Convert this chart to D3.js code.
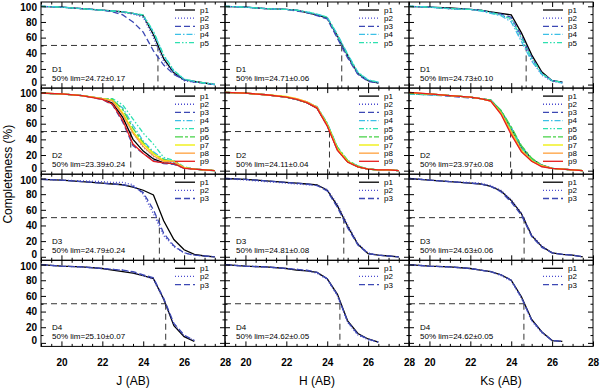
<!DOCTYPE html>
<html><head><meta charset="utf-8">
<script src="https://cdn.jsdelivr.net/npm/d3@7"></script>
<style>
body{margin:0;background:#fff}
svg{display:block;background:#fff}
text{font-family:"Liberation Sans",Arial,Helvetica,sans-serif;fill:#000}
</style>
</head><body><svg id="c" width="600" height="388"></svg>
<script>
// ---------------- data ----------------
const bands = ["J", "H", "Ks"];
const fields = ["D1", "D2", "D3", "D4"];
const seriesNames = ["p1","p2","p3","p4","p5","p6","p7","p8","p9"];
const mags = [19,20,21,22,22.5,23,23.5,24,24.5,25,25.5,26,26.5,27,27.5];
const xTicks = [20,22,24,26,28];
const yTicks = [0,20,40,60,80,100];
const limValues = [[24.72,24.71,24.73],[23.39,24.11,23.97],[24.79,24.81,24.63],[25.10,24.62,24.62]];
const limErrors = [[0.17,0.06,0.10],[0.24,0.04,0.08],[0.24,0.08,0.06],[0.07,0.05,0.05]];

const J_D1 = [
 [100,99,97,95,94,93,91,88,64,33,15,6,4,2,0],
 [100,99,97,95,94,92,90,86,60,30,14,5,3,2,0],
 [100,99,97,95,93,89,80,67,43,25,13,6,3,2,0],
 [100,99,97,95,94,93,91,88,67,37,17,7,4,2,0],
 [100,99,97,95,94,93,91,89,68,38,18,7,4,2,1]];
const H_D1 = [
 [100,99,97,96,95,92,89,85,62,37,14,5,2],
 [100,99,97,96,95,92,89,84,60,35,13,5,2],
 [100,99,97,96,94,92,88,84,59,34,13,4,2],
 [100,99,97,96,95,93,90,86,64,39,16,6,3],
 [100,99,97,96,95,93,90,86,63,38,15,6,3]];
const Ks_D1 = [
 [100,99,98,96,95,93,91,89,66,38,16,5,3],
 [100,99,97,96,95,92,89,83,58,31,12,4,2],
 [100,99,97,96,95,92,90,86,62,35,14,5,3],
 [100,99,97,96,94,91,88,80,55,30,13,5,2],
 [100,99,97,96,95,92,89,84,60,34,14,5,3]];
const J_D2 = [
 [99,98,96,92,86,68,40,25,15,10,9,4,2,1,0],
 [99,98,96,92,88,72,48,30,18,12,10,4,2,1,0],
 [99,98,96,91,84,62,32,22,13,9,8,3,2,1,0],
 [99,98,96,92,90,80,58,38,24,15,11,4,2,1,0],
 [99,98,96,92,92,84,66,48,34,17,13,5,2,1,0],
 [99,98,96,92,91,78,54,36,22,14,12,4,2,1,0],
 [99,98,96,92,90,74,50,34,22,13,12,4,2,1,0],
 [99,98,96,92,89,72,48,31,19,12,12,4,2,1,0],
 [99,98,96,91,85,64,34,22,12,10,9,3,2,1,0]];
const H_D2 = [
 [100,99,97,94,91,87,80,58,27,11,5,2,1,1,0],
 [100,99,97,94,91,87,80,57,26,11,5,2,1,1,0],
 [100,99,97,94,91,87,81,59,28,12,5,2,1,1,0],
 [100,99,97,94,91,88,82,61,30,13,6,2,1,1,0],
 [100,99,97,94,91,88,81,60,29,12,5,2,1,1,0],
 [100,99,97,94,91,87,81,60,30,13,6,2,1,1,0],
 [100,99,97,95,92,88,81,59,28,12,5,2,1,1,0],
 [100,99,97,94,92,88,81,58,27,11,5,2,1,1,0],
 [100,99,97,94,91,87,80,57,26,11,5,2,1,1,0]];
const Ks_D2 = [
 [99,98,96,94,92,90,76,54,30,15,7,3,2,1,0],
 [99,98,96,94,92,90,75,52,28,14,6,3,2,1,0],
 [98,97,95,93,92,89,74,51,27,13,6,3,2,1,0],
 [98,97,96,94,92,90,77,55,31,15,7,3,2,1,0],
 [98,97,96,94,92,90,76,53,29,14,6,3,2,1,0],
 [99,98,96,94,92,90,77,56,32,16,7,3,2,1,0],
 [99,98,96,94,92,89,74,50,26,13,6,3,2,1,0],
 [100,98,96,94,92,89,73,48,25,12,6,3,2,1,0],
 [100,98,96,94,92,89,72,46,24,12,5,3,2,1,0]];
const J_D3 = [
 [99,98,96,94,93,92,89,85,79,46,22,9,3,1,0],
 [99,98,97,96,95,95,92,80,55,27,13,5,2,1,0],
 [99,98,96,94,93,92,90,82,60,30,14,5,2,1,0]];
const H_D3 = [
 [100,99,97,95,94,93,92,85,65,39,16,4,2,1,0],
 [100,98,96,94,93,92,91,86,67,41,17,5,2,1,0],
 [100,99,97,95,94,93,91,84,63,37,15,4,2,1,0]];
const Ks_D3 = [
 [100,98,96,94,93,90,84,72,55,27,13,5,3,2,0],
 [100,98,96,95,94,91,85,73,56,28,14,5,3,2,0],
 [100,98,96,94,93,90,83,70,53,26,12,5,3,2,0]];
const J_D4 = [
 [100,98,97,95,93,91,89,86,82,56,22,8,2],
 [100,98,97,95,94,93,90,86,81,55,24,9,3],
 [100,98,97,95,94,93,91,87,83,57,25,10,3]];
const H_D4 = [
 [100,98,97,95,93,92,90,82,62,28,12,5,1],
 [100,98,97,95,94,92,89,81,60,26,10,4,1],
 [100,98,97,95,94,93,90,82,61,27,11,5,1]];
const Ks_D4 = [
 [100,98,97,95,93,91,87,80,59,30,14,3,2],
 [100,98,97,95,93,91,86,79,57,28,13,3,2],
 [100,98,97,95,93,91,87,80,58,29,14,3,2]];

const completeness = [
 [J_D1, H_D1, Ks_D1],
 [J_D2, H_D2, Ks_D2],
 [J_D3, H_D3, Ks_D3],
 [J_D4, H_D4, Ks_D4]];

// ---------------- layout / style ----------------
const svg = d3.select("#c");
const colX = [41, 225, 409], colW = 184;
const rowY0 = 2, rowH = 86.1;
const xDomain = [19, 28], yDomain = [-4.5, 105.5];
const styles = [
 {color:"#000000", dash:null},
 {color:"#4b4bd0", dash:"1,2"},
 {color:"#3c48b4", dash:"6,3"},
 {color:"#3cc0e6", dash:"6,2,1.5,2"},
 {color:"#2ee0b0", dash:"5,2,1.5,2,1.5,2"},
 {color:"#46d246", dash:"8,2,3,2"},
 {color:"#eeee00", dash:null},
 {color:"#ffa03c", dash:null},
 {color:"#e61e1e", dash:null}
];
const tickFont = "bold 10px 'Liberation Sans', Arial, sans-serif";
const xMinor = d3.range(19, 28.001, 0.5).filter(v => !xTicks.includes(v));
const yMinor = [10, 30, 50, 70, 90];

const defs = svg.append("defs");

fields.forEach((field, r) => {
  bands.forEach((band, c) => {
    const x0 = colX[c], y0 = rowY0 + r * rowH;
    const x = d3.scaleLinear().domain(xDomain).range([x0, x0 + colW]);
    const y = d3.scaleLinear().domain(yDomain).range([y0 + rowH, y0]);
    const g = svg.append("g");
    const clipId = `clip${r}${c}`;
    defs.append("clipPath").attr("id", clipId).append("rect")
      .attr("x", x0).attr("y", y0).attr("width", colW).attr("height", rowH);

    const lim = limValues[r][c];
    // 50% reference lines
    g.append("line").attr("x1", x(xDomain[0])).attr("x2", x(lim)).attr("y1", y(50)).attr("y2", y(50))
      .attr("stroke", "#333").attr("stroke-width", 1).attr("stroke-dasharray", "6,4");
    g.append("line").attr("x1", x(lim)).attr("x2", x(lim)).attr("y1", y(50)).attr("y2", y(yDomain[0]))
      .attr("stroke", "#333").attr("stroke-width", 1).attr("stroke-dasharray", "6,4");

    // curves
    const series = completeness[r][c];
    const line = d3.line().x(d => x(d[0])).y(d => y(d[1]));
    const cg = g.append("g").attr("clip-path", `url(#${clipId})`);
    series.forEach((vals, i) => {
      const pts = vals.map((v, k) => [mags[k], v]);
      cg.append("path").attr("d", line(pts)).attr("fill", "none")
        .attr("stroke", styles[i].color).attr("stroke-width", 1.3)
        .attr("stroke-dasharray", styles[i].dash);
    });

    // ticks (inward on all sides)
    const tickStyle = sel => { sel.select(".domain").remove(); sel.selectAll("line").attr("stroke", "#000"); };
    const bottom = d3.axisBottom(x).tickValues(xTicks).tickSize(-5).tickPadding(13)
      .tickFormat(r === 3 ? d3.format("d") : () => "");
    g.append("g").attr("transform", `translate(0,${y0 + rowH})`).call(bottom).call(tickStyle)
      .selectAll("text").style("font", tickFont).attr("fill", "#000");
    g.append("g").attr("transform", `translate(0,${y0 + rowH})`)
      .call(d3.axisBottom(x).tickValues(xMinor).tickSize(-2.5).tickFormat(() => "")).call(tickStyle);
    g.append("g").attr("transform", `translate(0,${y0})`)
      .call(d3.axisTop(x).tickValues(xTicks).tickSize(-5).tickFormat(() => "")).call(tickStyle);
    g.append("g").attr("transform", `translate(0,${y0})`)
      .call(d3.axisTop(x).tickValues(xMinor).tickSize(-2.5).tickFormat(() => "")).call(tickStyle);
    const left = d3.axisLeft(y).tickValues(yTicks).tickSize(-5).tickPadding(4)
      .tickFormat(c === 0 ? d3.format("d") : () => "");
    const lg = g.append("g").attr("transform", `translate(${x0},0)`).call(left).call(tickStyle);
    lg.selectAll("text").style("font", tickFont).attr("fill", "#000")
      .attr("dy", d => d === 0 ? "0.1em" : d === 100 ? "0.45em" : "0.32em");
    g.append("g").attr("transform", `translate(${x0},0)`)
      .call(d3.axisLeft(y).tickValues(yMinor).tickSize(-2.5).tickFormat(() => "")).call(tickStyle);
    g.append("g").attr("transform", `translate(${x0 + colW},0)`)
      .call(d3.axisRight(y).tickValues(yTicks).tickSize(-5).tickFormat(() => "")).call(tickStyle);
    g.append("g").attr("transform", `translate(${x0 + colW},0)`)
      .call(d3.axisRight(y).tickValues(yMinor).tickSize(-2.5).tickFormat(() => "")).call(tickStyle);

    // frame
    g.append("rect").attr("x", x0).attr("y", y0).attr("width", colW).attr("height", rowH)
      .attr("fill", "none").attr("stroke", "#000").attr("stroke-width", 1);

    // legend
    const xr = x0 + colW;
    series.forEach((vals, i) => {
      const ly = y0 + 8 + i * 8.15;
      g.append("line").attr("x1", xr - 50).attr("x2", xr - 30).attr("y1", ly).attr("y2", ly)
        .attr("stroke", styles[i].color).attr("stroke-width", 1.3).attr("stroke-dasharray", styles[i].dash);
      g.append("text").attr("x", xr - 25).attr("y", ly + 2.9).attr("font-size", 8).text(seriesNames[i]);
    });

    // annotations
    g.append("text").attr("x", x0 + 11).attr("y", y0 + 70).attr("font-size", 8).text(field);
    g.append("text").attr("x", x0 + 11).attr("y", y0 + 79).attr("font-size", 8)
      .text(`50% lim=${lim.toFixed(2)}±${limErrors[r][c].toFixed(2)}`);
  });
});

// axis titles
bands.forEach((band, c) => {
  svg.append("text").attr("x", colX[c] + colW / 2).attr("y", 385).attr("text-anchor", "middle")
    .attr("font-size", 12).text(`${band} (AB)`);
});
svg.append("text").attr("transform", `translate(12,${rowY0 + 2 * rowH}) rotate(-90)`)
  .attr("text-anchor", "middle").attr("font-size", 12).text("Completeness (%)");
</script>
</body></html>
